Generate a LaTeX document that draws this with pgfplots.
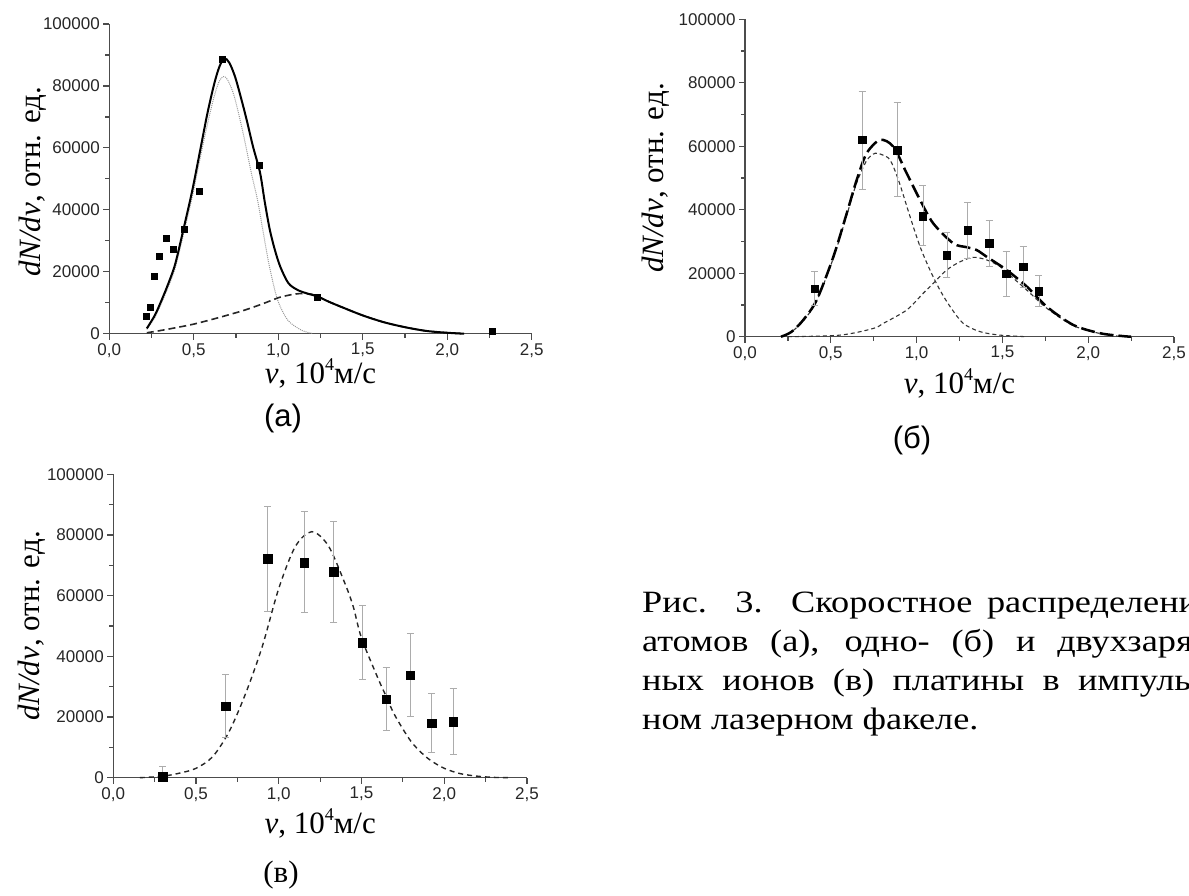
\documentclass[border=0pt]{standalone}
\usepackage{fontspec}
\setmainfont{Liberation Serif}
\newfontfamily\arial{Liberation Sans}
\newfontfamily\capfont[FakeStretch=1.17]{Liberation Serif}
\usepackage{pgfplots}
\usepackage{pgfplotstable}
\pgfplotsset{compat=1.18}

\newcommand\ticks{\arial\fontsize{17}{17}\selectfont}
\newcommand\lab{\fontsize{31}{31}\selectfont}
\newcommand\capt{\capfont\fontsize{31}{31}\selectfont}

% (а) atoms
\pgfplotstableread{
x y
0.221 5700
0.243 8500
0.266 18600
0.296 24900
0.334 30800
0.379 27400
0.442 33700
0.533 46000
0.667 88600
0.888 54400
1.233 11800
2.264 800
}\atoms

% (б) singly charged ions
\pgfplotstableread{
x y ep em
0.405 15200 5400 5200
0.683 62000 15400 15600
0.886 58800 14900 14600
1.037 38000 9600 9400
1.177 25700 7100 7000
1.299 33500 8700 8800
1.422 29400 7300 7300
1.521 19800 7200 7000
1.620 22000 6400 6600
1.713 14300 4900 4800
}\ionsone

% (в) doubly charged ions
\pgfplotstableread{
x y ep em
0.298 300 3500 300
0.679 23600 10500 10300
0.933 72100 17200 17400
1.154 70900 16800 16500
1.333 67900 16700 16600
1.505 44500 12200 12100
1.648 25900 10600 10400
1.795 33800 13800 13700
1.923 18000 9800 9800
2.054 18500 10800 10800
}\ionstwo

\pgfplotsset{
  vel/.style={
    scale only axis, anchor=south west, clip=false,
    xmin=0, xmax=2.5, ymin=0, ymax=100000,
    axis lines=left, axis line style={-, line width=1.5pt, black!70},
    xtick={0,0.5,1,1.5,2,2.5},
    xticklabels={{0,0},{0,5},{1,0},{1,5},{2,0},{2,5}},
    minor xtick={0.25,0.75,1.25,1.75,2.25},
    ytick={0,20000,40000,60000,80000,100000},
    yticklabels={0,20000,40000,60000,80000,100000},
    minor ytick={10000,30000,50000,70000,90000},
    scaled y ticks=false,
    tick align=outside, major tick length=6pt, minor tick length=4pt,
    tick style={line width=1.2pt, black!70},
    tick label style={font=\ticks, text=black!85},
    label style={font=\lab},
    xlabel={\textit{v}, 10\raisebox{0.42em}{\fontsize{18}{18}\selectfont 4}м/с},
    ylabel={\textit{dN/dv}, отн. ед.},
  },
  errs/.style={only marks, mark=square*, black, mark size=#1,
    error bars/.cd, y dir=both, y explicit,
    error bar style={gray!65, line width=0.9pt},
    error mark options={gray!65, line width=0.9pt, mark size=3.5pt, rotate=90}},
}

\begin{document}
\begin{tikzpicture}
\useasboundingbox (0pt,0pt) rectangle (1189pt,-896pt);
\clip (0pt,0pt) rectangle (1189pt,-896pt);

% ---------- (а)
\begin{axis}[vel, at={(109.3pt,-333.7pt)}, width=422.5pt, height=309.7pt,
  xlabel style={at={(axis description cs:0.5,-0.162)}, anchor=base},
  ylabel style={at={(axis description cs:-0.182,0.49)}, anchor=center}]
\addplot[gray!80, line width=1pt, dash pattern=on 1pt off 1pt, smooth] coordinates {
(0.222,1400)(0.27,5300)(0.31,10000)(0.35,15200)(0.39,21200)(0.44,32300)(0.49,44000)
(0.537,56500)(0.58,67500)(0.62,76500)(0.65,81500)(0.675,83000)(0.70,82000)(0.74,76500)
(0.792,64700)(0.84,52000)(0.877,43200)(0.91,33000)(0.948,21600)(0.996,10900)
(1.056,4400)(1.135,1200)(1.2,100)};
\addplot[black!85, line width=1.6pt, dash pattern=on 7pt off 4pt, smooth] coordinates {
(0.222,300)(0.3,1000)(0.4,2000)(0.5,3100)(0.6,4500)(0.7,6000)(0.8,7600)(0.9,9500)
(1.0,11600)(1.05,12300)(1.1,12800)(1.15,13000)(1.2,12700)(1.233,12000)(1.3,10300)
(1.375,8600)(1.5,5900)(1.625,3700)(1.75,2100)(1.875,900)(2.0,300)(2.1,0)};
\addplot[black, line width=2pt, smooth] coordinates {
(0.222,1700)(0.27,6000)(0.31,10900)(0.35,16300)(0.39,22500)(0.44,34000)(0.49,46000)
(0.537,59000)(0.58,71000)(0.62,80500)(0.65,86000)(0.68,88900)(0.71,87500)(0.744,83000)
(0.78,76000)(0.813,69000)(0.85,60500)(0.892,52000)(0.92,42500)(0.95,33500)(0.98,27000)
(1.012,21600)(1.06,16300)(1.115,14100)(1.17,13000)(1.233,12000)(1.3,10300)(1.375,8600)
(1.5,5900)(1.625,3700)(1.75,2100)(1.875,900)(2.0,300)(2.1,0)};
\addplot[only marks, mark=square*, black, mark size=3pt] table[x=x, y=y]{\atoms};
\end{axis}

% ---------- (б)
\begin{axis}[vel, at={(745pt,-336.7pt)}, width=429pt, height=317.4pt,
  xlabel style={at={(axis description cs:0.5,-0.178)}, anchor=base},
  ylabel style={at={(axis description cs:-0.207,0.5)}, anchor=center}]
\addplot[black!80, line width=1.1pt, dash pattern=on 4pt off 3pt, smooth] coordinates {
(0.21,0)(0.27,1500)(0.34,5000)(0.418,11300)(0.515,24800)(0.593,38300)(0.651,48500)
(0.709,55500)(0.758,57800)(0.80,57300)(0.845,55700)(0.894,49400)(0.962,37800)(1.02,28400)
(1.078,21000)(1.136,14700)(1.195,9500)(1.272,4200)(1.369,1600)(1.485,500)(1.64,0)};
\addplot[black!80, line width=1.1pt, dash pattern=on 4pt off 3pt, smooth] coordinates {
(0.25,0)(0.554,500)(0.748,2600)(0.806,4200)(0.942,8400)(1.039,13700)(1.097,16800)
(1.175,21000)(1.253,23600)(1.33,25000)(1.408,24200)(1.486,22100)(1.564,18400)
(1.642,14700)(1.758,9000)(1.913,3500)(2.069,1000)(2.2,0)};
\addplot[black, line width=2.5pt, dash pattern=on 14pt off 5pt, smooth] coordinates {
(0.21,0)(0.27,1500)(0.34,5300)(0.418,11600)(0.515,25200)(0.593,38900)(0.651,49400)
(0.709,57800)(0.787,62000)(0.864,59900)(0.942,51500)(1.02,43100)(1.097,35700)
(1.214,29400)(1.292,28200)(1.35,27300)(1.408,25200)(1.525,21000)(1.642,15800)
(1.758,9500)(1.913,3700)(2.069,1100)(2.2,200)(2.25,0)};
\addplot[errs=3.7pt] table[x=x, y=y, y error plus=ep, y error minus=em]{\ionsone};
\end{axis}

% ---------- (в)
\begin{axis}[vel, at={(113.3pt,-777.7pt)}, width=413.7pt, height=303.4pt,
  xlabel style={at={(axis description cs:0.5,-0.183)}, anchor=base},
  ylabel style={at={(axis description cs:-0.197,0.5)}, anchor=center}]
\addplot[black!85, line width=1.4pt, dash pattern=on 5pt off 4pt, smooth] coordinates {
(0.16,0)(0.3,500)(0.4,1500)(0.5,3100)(0.6,6900)(0.7,15200)(0.8,27800)(0.9,43200)
(1.0,62400)(1.1,76200)(1.2,81100)(1.3,76400)(1.4,64000)(1.45,56400)(1.5,46000)
(1.6,32700)(1.65,26700)(1.7,20700)(1.8,11900)(1.9,6400)(2.0,3100)(2.1,1300)
(2.2,500)(2.3,100)(2.4,0)};
\addplot[errs=4.3pt] table[x=x, y=y, y error plus=ep, y error minus=em]{\ionstwo};
\end{axis}

% panel letters
\node[font=\arial\fontsize{31}{31}\selectfont] at (283pt,-418pt) {(а)};
\node[font=\arial\fontsize{31}{31}\selectfont] at (912pt,-440pt) {(б)};
\node[font=\lab] at (281pt,-875pt) {(в)};

% caption, justified lines running past the right edge
\node[anchor=base west, inner sep=0pt, font=\capt] at (642pt,-612pt)
  {\makebox[572pt][s]{Рис. 3. Скоростное распределение}};
\node[anchor=base west, inner sep=0pt, font=\capt] at (642pt,-651pt)
  {\makebox[581pt][s]{атомов (а), одно- (б) и двухзаряд-}};
\node[anchor=base west, inner sep=0pt, font=\capt] at (642pt,-690pt)
  {\makebox[577pt][s]{ных ионов (в) платины в импульс-}};
\node[anchor=base west, inner sep=0pt, font=\capt] at (642pt,-729pt)
  {ном лазерном факеле.};
\end{tikzpicture}
\end{document}
